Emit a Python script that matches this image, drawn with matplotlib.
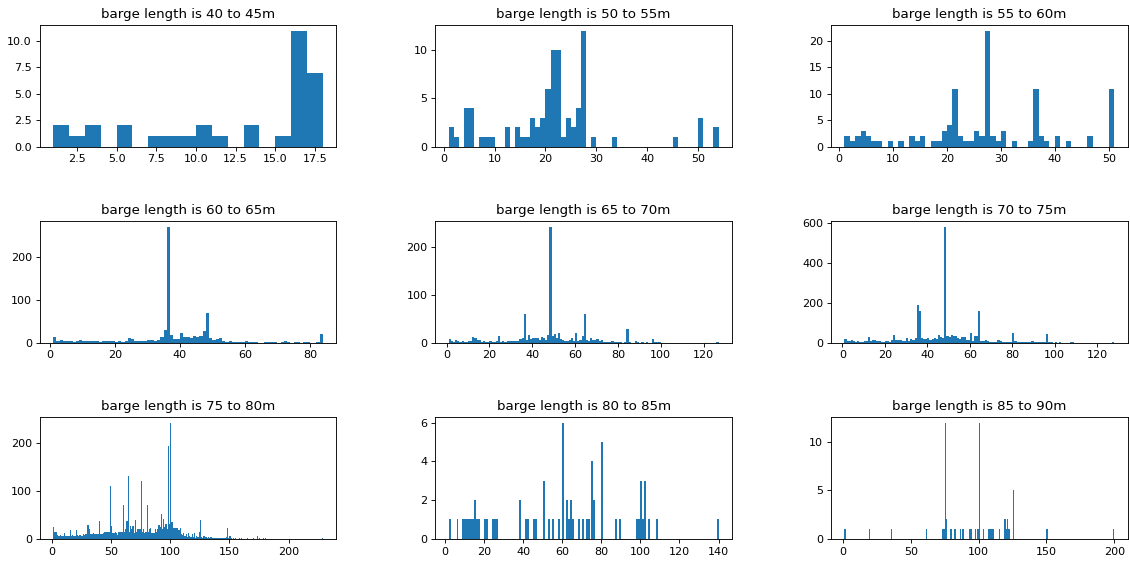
import matplotlib
matplotlib.use("Agg")
import matplotlib.pyplot as plt
import numpy as np

# titles for the 9 length groups
titles = ["barge length is 40 to 45m", "barge length is 50 to 55m", "barge length is 55 to 60m",
          "barge length is 60 to 65m", "barge length is 65 to 70m", "barge length is 70 to 75m",
          "barge length is 75 to 80m", "barge length is 80 to 85m", "barge length is 85 to 90m"]

# dense panels: counts per unit bin starting at lo
c40 = [2, 1, 2, 0, 2, 0, 1, 1, 1, 2, 1, 0, 2, 0, 1, 11, 7]
c50 = [2, 1, 0, 4, 4, 0, 1, 1, 1, 0, 0, 2, 0, 2, 1, 1, 3, 2, 3, 6,
       10, 10, 1, 3, 2, 4, 12, 0, 1, 0, 0, 0, 1, 0, 0, 0, 0, 0, 0, 0,
       0, 0, 0, 0, 1, 0, 0, 0, 0, 3, 0, 0, 2]
c55 = [2, 1, 2, 3, 2, 1, 1, 0, 1, 0, 1, 0, 2, 1, 2, 0, 1, 1, 3, 4,
       11, 2, 1, 1, 3, 2, 22, 2, 1, 3, 0, 1, 0, 0, 1, 11, 2, 1, 0, 2,
       0, 1, 0, 0, 0, 2, 0, 0, 0, 11]
c60 = [13, 3, 7, 3, 5, 4, 2, 5, 7, 4, 4, 4, 4, 4, 2, 4, 4, 4, 3, 2,
       4, 2, 3, 10, 8, 4, 4, 4, 4, 7, 7, 5, 7, 13, 30, 270, 18, 9, 8, 22,
       13, 13, 10, 16, 13, 16, 28, 68, 10, 6, 8, 10, 3, 1, 4, 2, 1, 1, 1, 4,
       1, 2, 1, 0, 0, 1, 1, 2, 1, 0, 1, 3, 1, 0, 1, 1, 0, 2, 1, 0,
       0, 1, 20]
c65 = [7, 4, 2, 5, 3, 2, 4, 2, 2, 3, 4, 12, 9, 5, 6, 2, 4, 2, 1, 3,
       2, 2, 3, 13, 2, 4, 2, 3, 3, 3, 4, 3, 4, 7, 9, 61, 5, 17, 7, 9,
       10, 10, 6, 11, 9, 6, 17, 243, 14, 18, 10, 21, 8, 6, 3, 4, 6, 9, 3, 20,
       4, 5, 13, 61, 5, 3, 9, 5, 6, 7, 3, 6, 1, 1, 1, 2, 3, 1, 2, 2,
       1, 0, 1, 28, 1, 0, 0, 3, 2, 0, 1, 0, 1, 0, 0, 8, 1, 2, 1, 0,
       0, 0, 0, 0, 0, 0, 0, 0, 0, 0, 0, 0, 0, 0, 0, 0, 0, 0, 0, 0,
       0, 0, 0, 0, 0, 1]
c70 = [18, 10, 8, 15, 10, 5, 8, 5, 3, 8, 8, 28, 10, 12, 15, 8, 10, 4, 5, 10,
       8, 5, 15, 40, 12, 15, 12, 8, 10, 25, 10, 18, 12, 25, 190, 160, 25, 20, 18, 22,
       15, 20, 22, 20, 40, 30, 25, 580, 35, 30, 38, 32, 35, 25, 20, 28, 28, 15, 15, 48,
       10, 32, 35, 160, 8, 10, 12, 6, 5, 5, 5, 5, 15, 10, 4, 5, 3, 3, 5, 50,
       8, 2, 1, 4, 3, 1, 2, 1, 6, 4, 3, 1, 1, 1, 1, 45, 2, 1, 0, 1,
       0, 1, 0, 0, 0, 0, 1, 3, 0, 0, 0, 0, 0, 0, 0, 0, 0, 0, 0, 0,
       0, 0, 0, 0, 0, 0, 5]
c75 = [25, 15, 15, 8, 6, 5, 7, 6, 5, 12, 5, 6, 5, 6, 18, 6, 7, 5, 6, 18,
       7, 6, 8, 7, 6, 9, 8, 9, 10, 28, 20, 10, 9, 10, 12, 10, 11, 10, 9, 38,
       10, 11, 12, 14, 15, 15, 15, 14, 110, 27, 12, 12, 14, 12, 8, 15, 15, 15, 15, 70,
       15, 20, 38, 130, 15, 27, 20, 26, 12, 40, 15, 20, 20, 20, 120, 15, 20, 12, 15, 70,
       15, 20, 22, 12, 12, 12, 20, 15, 20, 28, 25, 52, 20, 42, 25, 30, 20, 193, 30, 242,
       35, 22, 22, 22, 22, 22, 18, 22, 10, 8, 12, 5, 10, 3, 12, 5, 4, 10, 3, 12,
       2, 5, 3, 15, 40, 3, 2, 5, 3, 4, 2, 3, 1, 3, 2, 1, 1, 1, 1, 2,
       1, 1, 1, 1, 1, 1, 3, 22, 2, 6, 1, 0, 1, 0, 1, 0, 0, 1, 0, 1,
       0, 0, 0, 0, 1, 0, 0, 0, 0, 1, 0, 0, 5, 0, 1, 0, 0, 1, 0, 1,
       0, 0, 0, 0, 0, 0, 0, 0, 0, 0, 0, 0, 0, 0, 0, 0, 0, 0, 0, 0,
       0, 0, 0, 0, 0, 0, 0, 0, 0, 0, 0, 0, 0, 0, 0, 0, 0, 0, 0, 0,
       0, 0, 0, 0, 0, 0, 0, 1]

# sparse panels: bin start and count of the non-empty bins
p80_pos = [2, 6, 9, 10, 11, 12, 13, 14, 15, 16, 17, 20, 21, 24, 25, 26, 38, 41, 42, 45,
           46, 50, 53, 55, 58, 60, 62, 63, 64, 65, 68, 70, 72, 73, 75, 76, 80, 87, 89, 98,
           99, 100, 101, 102, 104, 108, 139]
p80_cnt = [1, 1, 1, 1, 1, 1, 1, 1, 2, 1, 1, 1, 1, 1, 1, 1, 2, 1, 1, 1,
           1, 3, 1, 1, 1, 6, 2, 1, 2, 1, 1, 1, 1, 1, 4, 2, 5, 1, 1, 1,
           1, 3, 1, 3, 1, 1, 1]
p85_pos = [1, 19, 35, 61, 73, 74, 75, 76, 79, 82, 86, 88, 93, 94, 97, 99, 100, 103, 107, 108,
           109, 110, 115, 119, 120, 121, 122, 125, 150, 199]
p85_cnt = [1, 1, 1, 1, 1, 1, 12, 2, 1, 1, 1, 1, 1, 1, 1, 1, 12, 1, 1, 1,
           1, 1, 1, 2, 1, 2, 1, 5, 1, 1]

# (lo, hi) of the bin range for each panel
ranges = [(1, 18), (1, 54), (1, 51), (1, 84), (1, 127), (1, 128), (1, 229), (2, 140), (1, 200)]

dense = [c40, c50, c55, c60, c65, c70, c75]
sparse = [(p80_pos, p80_cnt), (p85_pos, p85_cnt)]

fig, axes = plt.subplots(3, 3, figsize=(1130 / 80, 563 / 80), dpi=80)
plt.subplots_adjust(left=0.035, right=0.998, bottom=0.043, top=0.956, wspace=0.333, hspace=0.61)

for i, ax in enumerate(axes.flat):
    lo, hi = ranges[i]
    edges = np.linspace(lo, hi, hi - lo + 1)
    if i < len(dense):
        counts = np.array(dense[i])
        centers = lo + np.arange(len(counts)) + 0.5
    else:
        pos, cnt = sparse[i - len(dense)]
        counts = np.array(cnt)
        centers = np.array(pos) + 0.5
    ax.hist(centers, bins=edges, weights=counts)
    ax.set_title(titles[i])

fig.savefig("out.png", dpi=80)
